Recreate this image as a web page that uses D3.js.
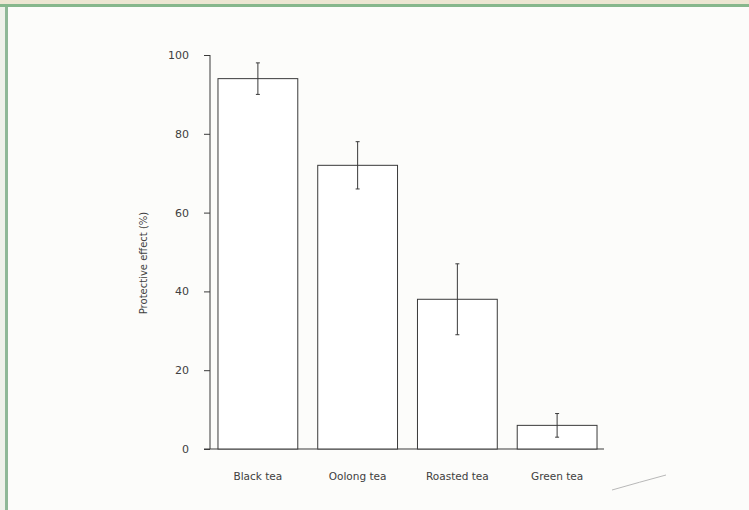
<!DOCTYPE html>
<html>
<head>
<meta charset="utf-8">
<script src="https://cdn.jsdelivr.net/npm/d3@7"></script>
<style>
    body { margin: 0; background: #fbfbf8; }
    .axis text {
        font-family: "DejaVu Sans", sans-serif;
        font-size: 10.5px;
        fill: #404040;
    }
    .axis path, .axis line { stroke: #3a3a3a; }
    .bar { fill: #fff; stroke: #3a3a3a; stroke-width: 1px; }
    .err { stroke: #3a3a3a; stroke-width: 1px; }
</style>
</head>
<body>
<div id="chart"></div>
<script>
    // data
    var teas = ["Black tea", "Oolong tea", "Roasted tea", "Green tea"];
    var effect = [94, 72, 38, 6];
    var errors = [4, 6, 9, 3];
    var yTicks = [0, 20, 40, 60, 80, 100];

    var width = 749, height = 510;

    var svg = d3.select("#chart")
        .append("svg")
        .attr("width", width)
        .attr("height", height);

    // page frame of the scan
    svg.append("rect").attr("x", 0).attr("y", 0).attr("width", width).attr("height", height).attr("fill", "#fcfcfa");
    svg.append("rect").attr("x", 0).attr("y", 0).attr("width", width).attr("height", 4).attr("fill", "#ece6d2");
    svg.append("rect").attr("x", 0).attr("y", 4).attr("width", width).attr("height", 3).attr("fill", "#86b78c");
    svg.append("rect").attr("x", 0).attr("y", 7).attr("width", 5).attr("height", height).attr("fill", "#eef1ea");
    svg.append("rect").attr("x", 5).attr("y", 7).attr("width", 3).attr("height", height).attr("fill", "#8fb897");

    var x = d3.scaleBand()
        .domain(teas)
        .range([210, 605])
        .paddingInner(0.2)
        .paddingOuter(0.08);

    var y = d3.scaleLinear()
        .domain([0, 100])
        .range([449, 55]);

    // y axis
    var yAxis = svg.append("g")
        .attr("class", "axis")
        .attr("transform", "translate(210,0)")
        .call(d3.axisLeft(y).tickValues(yTicks).tickSize(6).tickPadding(15).tickSizeOuter(0));
    yAxis.select(".domain").remove();
    yAxis.selectAll(".tick text").style("font-size", "11px");
    yAxis.append("line")
        .attr("x1", 0).attr("x2", 0)
        .attr("y1", y(100)).attr("y2", y(0))
        .attr("stroke", "#3a3a3a");

    // x axis line
    svg.append("line")
        .attr("x1", 204).attr("x2", 604)
        .attr("y1", y(0)).attr("y2", y(0))
        .attr("stroke", "#3a3a3a");

    // bars
    svg.selectAll("rect.bar")
        .data(teas)
        .enter()
        .append("rect")
        .attr("class", "bar")
        .attr("x", function (d) { return x(d); })
        .attr("width", x.bandwidth())
        .attr("y", function (d, i) { return y(effect[i]); })
        .attr("height", function (d, i) { return y(0) - y(effect[i]); });

    // error bars
    var eb = svg.selectAll("g.eb")
        .data(teas)
        .enter()
        .append("g")
        .attr("class", "eb")
        .attr("transform", function (d) { return "translate(" + (x(d) + x.bandwidth() / 2) + ",0)"; });
    eb.append("line").attr("class", "err")
        .attr("x1", 0).attr("x2", 0)
        .attr("y1", function (d, i) { return y(effect[i] + errors[i]); })
        .attr("y2", function (d, i) { return y(effect[i] - errors[i]); });
    eb.append("line").attr("class", "err")
        .attr("x1", -2).attr("x2", 2)
        .attr("y1", function (d, i) { return y(effect[i] + errors[i]); })
        .attr("y2", function (d, i) { return y(effect[i] + errors[i]); });
    eb.append("line").attr("class", "err")
        .attr("x1", -2).attr("x2", 2)
        .attr("y1", function (d, i) { return y(effect[i] - errors[i]); })
        .attr("y2", function (d, i) { return y(effect[i] - errors[i]); });

    // category labels
    svg.append("g")
        .attr("class", "axis")
        .selectAll("text")
        .data(teas)
        .enter()
        .append("text")
        .attr("x", function (d) { return x(d) + x.bandwidth() / 2; })
        .attr("y", 480)
        .attr("text-anchor", "middle")
        .text(function (d) { return d; });

    // y label
    svg.append("g")
        .attr("class", "axis")
        .append("text")
        .attr("transform", "translate(147,263) rotate(-90)")
        .attr("text-anchor", "middle")
        .style("font-size", "10px")
        .text("Protective effect (%)");

    // pencil mark at lower right
    svg.append("path")
        .attr("d", "M612,490 Q640,482 666,475")
        .attr("fill", "none")
        .attr("stroke", "#b8b8b8")
        .attr("stroke-width", 1);
</script>
</body>
</html>
